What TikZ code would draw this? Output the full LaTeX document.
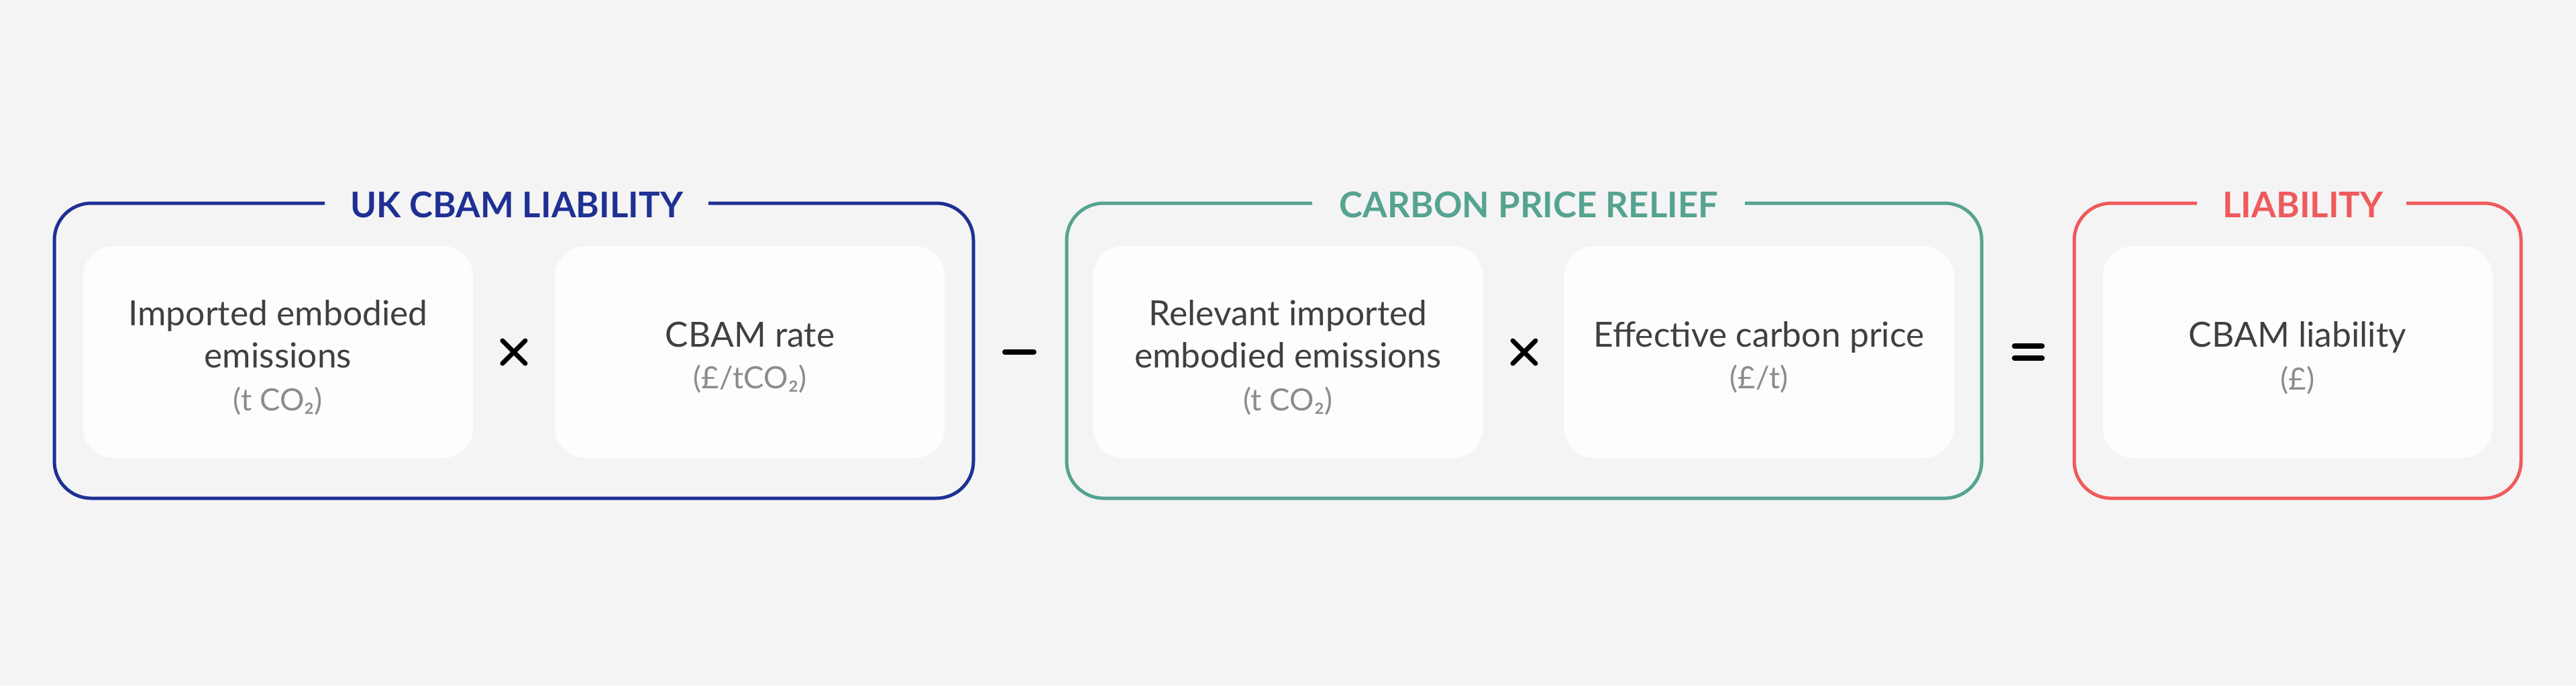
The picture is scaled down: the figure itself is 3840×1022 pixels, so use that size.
\documentclass[tikz,border=0pt]{standalone}
\usepackage{fontspec}
\setmainfont{Lato}
\definecolor{bgc}{HTML}{F4F4F4}
\definecolor{innerc}{HTML}{FDFDFB}
\definecolor{bluec}{HTML}{1F3094}
\definecolor{tealc}{HTML}{55A391}
\definecolor{redc}{HTML}{EF5A5C}
\definecolor{textc}{HTML}{404040}
\definecolor{unitc}{HTML}{8C8C8C}
\begin{document}
\begin{tikzpicture}[x=0.25pt,y=-0.25pt,
  frame/.style={line width=1.25pt, rounded corners=13.75pt},
  inbox/.style={fill=innerc, draw=none, rounded corners=11.25pt, minimum width=145.25pt, minimum height=79pt, inner sep=0pt},
  title/.style={font=\fontsize{13.2pt}{15pt}\selectfont\bfseries, inner sep=0pt},
  label/.style={font=\fontsize{12.9pt}{15.75pt}\selectfont, text=textc, align=center, inner sep=0pt},
  unit/.style={font=\fontsize{11.4pt}{13pt}\selectfont, text=unitc, inner sep=0pt},
  opline/.style={line width=2pt, line cap=round, black}
]
\fill[bgc] (0,0) rectangle (3840,1022);
\useasboundingbox (0,0) rectangle (3840,1022);

% group frames
\draw[frame, bluec] (484,303) -- (81,303) -- (81,743) -- (1451,743) -- (1451,303) -- (1056,303);
\draw[frame, tealc] (1956,303) -- (1590,303) -- (1590,743) -- (2954,743) -- (2954,303) -- (2601,303);
\draw[frame, redc] (3275,303) -- (3092,303) -- (3092,743) -- (3758,743) -- (3758,303) -- (3587,303);

% titles
\node[title, text=bluec] (t1) at (770,305) {UK CBAM LIABILITY};
\node[title, text=tealc] (t2) at (2279,305) {CARBON PRICE RELIEF};
\node[title, text=redc] (t3) at (3433,305) {LIABILITY};

% inner boxes
\node[inbox] (b1) at (414.5,525) {};
\node[inbox] (b2) at (1118,525) {};
\node[inbox] (b3) at (1920,525) {};
\node[inbox] (b4) at (2622,525) {};
\node[inbox] (b5) at (3425,525) {};

% labels
\node[label, anchor=base] (l1) at (414.5,548) {Imported embodied\\emissions};
\node[unit] (u1) at (414.5,598) {(t CO₂)};
\node[label, anchor=base] (l2) at (1118,517) {CBAM rate};
\node[unit] (u2) at (1118,565) {(£/tCO₂)};
\node[label, anchor=base] (l3) at (1920,548) {Relevant imported\\embodied emissions};
\node[unit] (u3) at (1920,598) {(t CO₂)};
\node[label, anchor=base] (l4) at (2622,517) {Effective carbon price};
\node[unit] (u4) at (2622,565) {(£/t)};
\node[label, anchor=base] (l5) at (3425,517) {CBAM liability};
\node[unit] (u5) at (3425,567) {(£)};

% operators
\draw[line width=1.75pt, line cap=round] (749,508) -- (783,542) (749,542) -- (783,508);
\draw[opline] (1498,525) -- (1541,525);
\draw[line width=1.75pt, line cap=round] (2255,508) -- (2289,542) (2255,542) -- (2289,508);
\draw[opline] (3003,516) -- (3044,516) (3003,534) -- (3044,534);
\end{tikzpicture}
\end{document}
